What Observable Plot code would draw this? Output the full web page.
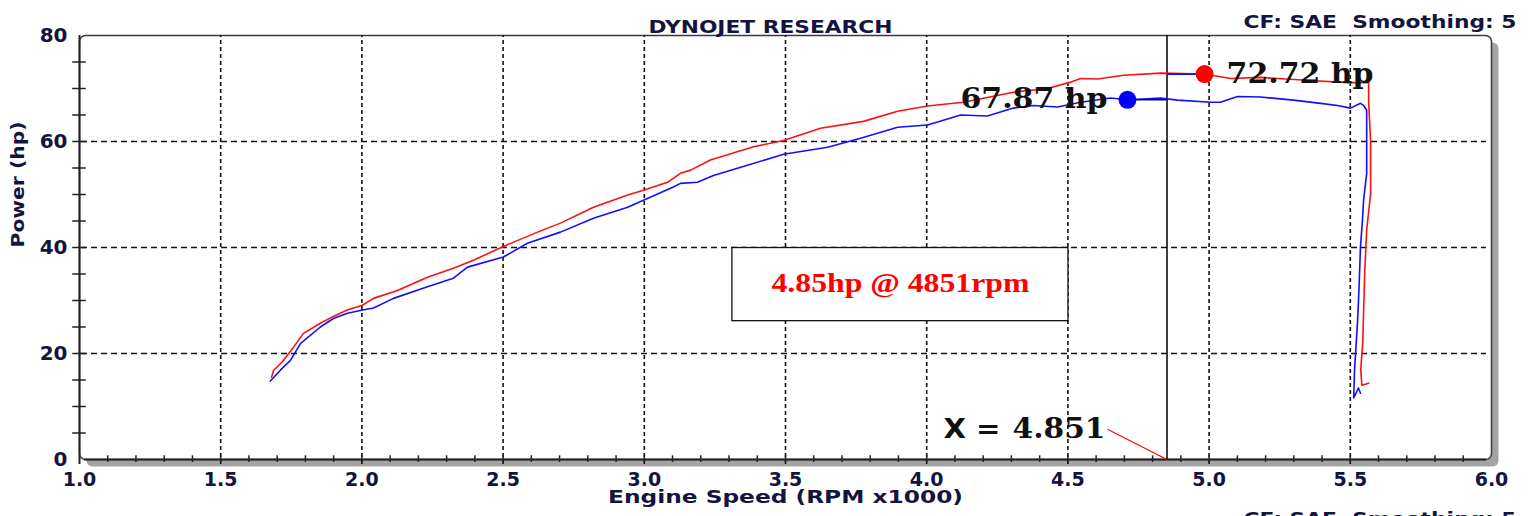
<!DOCTYPE html>
<html><head><meta charset="utf-8">
<script src="https://cdn.jsdelivr.net/npm/d3@7"></script>
<script src="https://cdn.jsdelivr.net/npm/@observablehq/plot@0.6"></script>
<style>html,body{margin:0;padding:0;background:#fff;overflow:hidden} svg{display:block}</style>
</head><body><div id="chart"></div>
<script>
// ---- data ----
const redRpm = [1.680,1.687,1.719,1.758,1.793,1.853,1.899,1.948,2.002,2.041,2.126,2.232,2.324,2.395,2.501,2.622,2.703,2.820,2.941,2.997,3.082,3.128,3.164,3.234,3.387,3.493,3.624,3.776,3.897,4.003,4.130,4.307,4.428,4.509,4.545,4.605,4.697,4.828,4.984,5.076,5.182,5.359,5.490,5.561,5.565,5.565,5.572,5.572,5.558,5.551,5.544,5.537,5.541,5.565];
const redHp  = [15.5,16.8,18.5,21.2,23.8,25.7,27.0,28.2,29.1,30.4,31.9,34.4,36.1,37.6,40.2,42.9,44.6,47.6,49.9,50.8,52.3,54.0,54.6,56.5,59.0,60.2,62.5,63.8,65.7,66.7,67.4,69.3,70.0,71.2,71.9,71.8,72.5,72.9,72.72,71.9,72.1,71.5,71.1,71.1,71.6,67.3,60.0,50.2,43.3,35.2,22.0,16.9,14.0,14.4];
const blueRpm = [1.676,1.712,1.747,1.783,1.853,1.899,1.949,2.002,2.041,2.112,2.232,2.324,2.374,2.501,2.586,2.703,2.820,2.941,2.997,3.103,3.128,3.188,3.245,3.365,3.493,3.649,3.766,3.897,4.003,4.059,4.120,4.215,4.307,4.378,4.463,4.545,4.651,4.711,4.828,4.888,5.005,5.040,5.101,5.182,5.299,5.395,5.455,5.501,5.536,5.547,5.558,5.558,5.547,5.543,5.536,5.531,5.526,5.515,5.512,5.529,5.536];
const blueHp  = [14.8,16.9,18.7,21.9,25.0,26.6,27.6,28.2,28.6,30.4,32.6,34.2,36.3,38.2,40.8,42.9,45.5,47.6,48.9,51.4,52.1,52.3,53.6,55.5,57.6,58.9,60.6,62.7,63.1,64.0,65.0,64.8,66.3,66.8,66.5,67.4,68.2,67.87,68.2,67.8,67.4,67.4,68.5,68.4,67.8,67.2,66.8,66.3,67.2,66.8,65.9,54.0,48.9,45.1,40.1,32.5,26.3,16.9,11.6,13.5,12.5];
const xTicks = [1.0,1.5,2.0,2.5,3.0,3.5,4.0,4.5,5.0,5.5,6.0];
const yTicks = [0,20,40,60,80];
const xGrid = [1.5,2.0,2.5,3.0,3.5,4.0,4.5,5.0,5.5];
const yGrid = [20,40,60];
const xMinor = d3.range(11,60).map(d => d/10);
const yMinor = [5,10,15,20,25,30,35,40,45,50,55,60,65,70,75];
const peakRed = [{rpm:4.984, hp:72.72, label:"72.72 hp"}];
const peakBlue = [{rpm:4.711, hp:67.87, label:"67.87 hp"}];
const cursorRpm = 4.851;
const cursorLabel = "4.851";
const cursorHpLabel = 5.7;
const infoBox = [{x1:3.312, x2:4.502, y1:26.1, y2:39.9, text:"4.85hp @ 4851rpm"}];
const title = "DYNOJET RESEARCH";
const cfText = "CF: SAE\u00a0 Smoothing: 5";
const xLabel = "Engine Speed (RPM x1000)";
const yLabel = "Power (hp)";

// ---- layout helpers ----
const navy = "#141440";
const fitWidths = {};
fitWidths[title] = 244; fitWidths[cfText] = 273; fitWidths[xLabel] = 355; fitWidths[yLabel] = 126;
fitWidths["72.72 hp"] = 147; fitWidths["67.87 hp"] = 147; fitWidths[infoBox[0].text] = 258;
fitWidths[cursorLabel] = 93; fitWidths["X ="] = 57;

const idx = a => d3.range(a.length);

const svg = Plot.plot({
  width: 1534, height: 516,
  marginLeft: 79, marginRight: 43, marginTop: 35, marginBottom: 57,
  x: {domain: [1, 6]},
  y: {domain: [0, 80]},
  style: "font-family: 'DejaVu Sans'; font-weight: bold; font-size: 20px; background: white;",
  marks: [
    Plot.frame({fill: "#a3a3a3", dx: 7, dy: 7, rx: 6}),
    Plot.frame({fill: "white", stroke: "#3a3a3a", strokeWidth: 1.5, rx: 6}),
    Plot.ruleX(xGrid, {y1: 0, y2: 80, insetTop: 5, stroke: "#111", strokeWidth: 1.6, strokeDasharray: "4,3"}),
    Plot.ruleY(yGrid, {x1: 1, x2: 6, insetLeft: 2, insetRight: 5, stroke: "#111", strokeWidth: 1.6, strokeDasharray: "6,4"}),
    Plot.ruleX([1], {y1: 0, y2: 80, insetTop: 5, stroke: "#222", strokeWidth: 2}),
    Plot.ruleY([0], {x1: 1, x2: 6, insetLeft: 5, insetRight: 5, stroke: "#222", strokeWidth: 2.2}),
    Plot.ruleX(xMinor, {y1: -0.55, y2: 0.7, stroke: "#222", strokeWidth: 1.5}),
    Plot.ruleY(yMinor, {x1: 0.976, x2: 1.024, stroke: "#222", strokeWidth: 1.5}),
    Plot.axisX({ticks: xTicks, tickSize: 0, tickPadding: 12.5, tickFormat: d3.format(".1f"), fontSize: 19, fontWeight: "bold", color: navy, label: null}),
    Plot.axisY({ticks: yTicks, tickSize: 0, tickPadding: 12, fontSize: 20, fontWeight: "bold", color: navy, label: null}),
    // cursor
    Plot.ruleX([cursorRpm], {y1: 0, y2: 80, stroke: "#111", strokeWidth: 1.6}),
    // info box
    Plot.rect(infoBox, {x1: "x1", x2: "x2", y1: "y1", y2: "y2", fill: "white", stroke: "#111", strokeWidth: 1.3}),
    Plot.text(infoBox, {x: d => (d.x1 + d.x2) / 2, y: d => (d.y1 + d.y2) / 2, text: "text", fill: "#ff0000", fontFamily: "Liberation Serif", fontSize: 28, fontWeight: "bold", dy: -2}),
    // curves
    Plot.line(idx(redRpm), {x: i => redRpm[i], y: i => redHp[i], stroke: "#ff1010", strokeWidth: 1.6}),
    Plot.line(idx(blueRpm), {x: i => blueRpm[i], y: i => blueHp[i], stroke: "#1010ff", strokeWidth: 1.6}),
    // cursor connectors
    Plot.link(peakBlue, {x1: "rpm", x2: () => cursorRpm, y1: "hp", y2: "hp", stroke: "#111", strokeWidth: 1.6}),
    Plot.link(peakRed, {x1: () => cursorRpm, x2: "rpm", y1: "hp", y2: "hp", stroke: "#1010ff", strokeWidth: 1.6}),
    // peaks
    Plot.dot(peakRed, {x: "rpm", y: "hp", r: 9, fill: "#ff0000"}),
    Plot.dot(peakBlue, {x: "rpm", y: "hp", r: 9, fill: "#0000ff"}),
    Plot.text(peakRed, {x: "rpm", y: "hp", text: "label", dx: 22, textAnchor: "start", fontFamily: "DejaVu Serif", fontSize: 27, fontWeight: "bold", fill: "#111"}),
    Plot.text(peakBlue, {x: "rpm", y: "hp", text: "label", dx: -20, textAnchor: "end", fontFamily: "DejaVu Serif", fontSize: 27, fontWeight: "bold", fill: "#111"}),
    // X = cursor label
    Plot.link([cursorRpm], {x1: d => d - 0.211, y1: () => cursorHpLabel, x2: d => d, y2: () => 0, stroke: "#ff0000", strokeWidth: 1.2}),
    Plot.text([cursorRpm], {x: d => d, y: () => cursorHpLabel, text: () => cursorLabel, dx: -154.5, textAnchor: "start", fontFamily: "DejaVu Serif", fontSize: 27, fontWeight: "bold", fill: "#111"}),
    Plot.text([cursorRpm], {x: d => d, y: () => cursorHpLabel, text: () => "X =", dx: -166.5, textAnchor: "end", fontFamily: "DejaVu Sans", fontSize: 27, fontWeight: "bold", fill: "#111"}),
    // titles
    Plot.text([title], {text: d => d, frameAnchor: "top", dx: -15, dy: -15, fontSize: 18, fontWeight: "bold", fill: navy}),
    Plot.text([cfText], {text: d => d, frameAnchor: "top-right", textAnchor: "end", dx: 25, dy: -20, fontSize: 18, fontWeight: "bold", fill: navy}),
    Plot.text([cfText], {text: d => d, frameAnchor: "bottom-right", textAnchor: "end", lineAnchor: "top", dx: 25, dy: 53, fontSize: 18, fontWeight: "bold", fill: navy}),
    Plot.text([xLabel], {text: d => d, frameAnchor: "bottom", dy: 43, fontSize: 17, fontWeight: "bold", fill: navy}),
    Plot.text([yLabel], {text: d => d, frameAnchor: "left", dx: -61, rotate: -90, fontSize: 18, fontWeight: "bold", fill: navy})
  ]
});

svg.querySelectorAll("text").forEach(t => {
  const w = fitWidths[t.textContent];
  if (w) { t.setAttribute("textLength", w); t.setAttribute("lengthAdjust", "spacingAndGlyphs"); }
});
document.getElementById("chart").appendChild(svg);
</script>
</body></html>
